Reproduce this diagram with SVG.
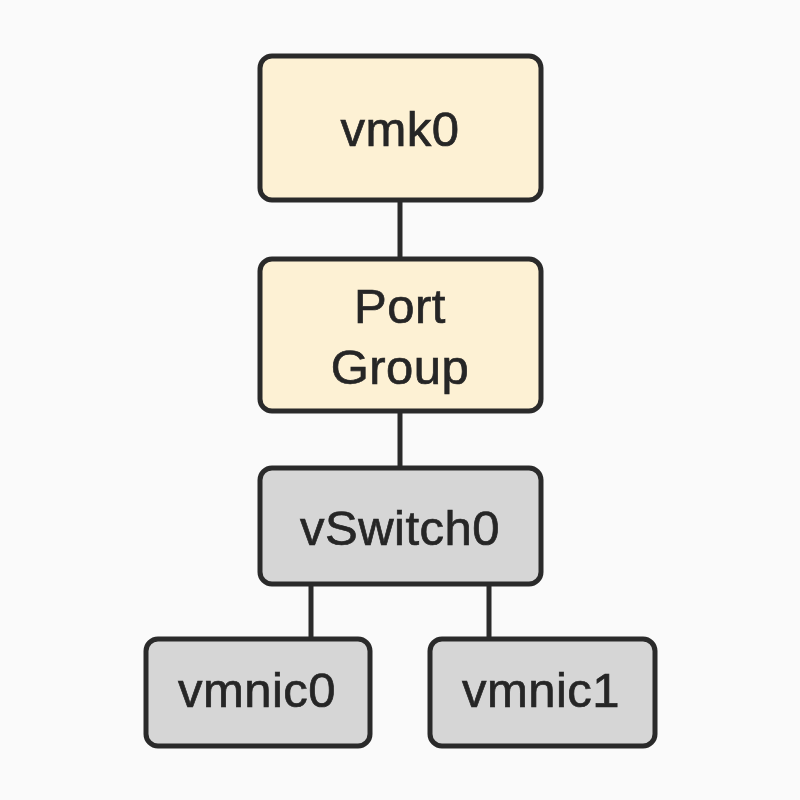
<svg xmlns="http://www.w3.org/2000/svg" width="800" height="800" viewBox="0 0 800 800">
<style>
.bg{fill:#fafafa}
.box{stroke:#2a2a2a;stroke-width:5}
.y{fill:#fdf1d4}
.g{fill:#d6d6d6}
.lbl{font-family:"Liberation Sans",Arial,sans-serif;font-size:49px;fill:#262626;stroke:#262626;stroke-width:0.7px;text-anchor:middle;letter-spacing:0.5px}
.conn{stroke:#2a2a2a;stroke-width:5;fill:none}
</style>
<rect class="bg" x="0" y="0" width="800" height="800"/>
<g id="connectors">
<line class="conn" x1="400" y1="201" x2="400" y2="259"/>
<line class="conn" x1="400" y1="412" x2="400" y2="468"/>
<line class="conn" x1="311" y1="585" x2="311" y2="639"/>
<line class="conn" x1="489" y1="585" x2="489" y2="639"/>
</g>
<g id="vmk0">
<rect class="box y" x="260" y="56" width="281" height="144" rx="12"/>
<text class="lbl" x="400" y="146">vmk0</text>
</g>
<g id="portgroup">
<rect class="box y" x="260" y="259" width="281" height="152" rx="12"/>
<text class="lbl" x="400" y="323">Port</text>
<text class="lbl" x="400" y="384">Group</text>
</g>
<g id="vswitch0">
<rect class="box g" x="260" y="468" width="281" height="116" rx="12"/>
<text class="lbl" x="400" y="545">vSwitch0</text>
</g>
<g id="vmnic0">
<rect class="box g" x="146" y="639" width="224" height="107" rx="12"/>
<text class="lbl" x="257" y="707">vmnic0</text>
</g>
<g id="vmnic1">
<rect class="box g" x="430" y="639" width="225" height="107" rx="12"/>
<text class="lbl" x="541" y="707">vmnic1</text>
</g>
</svg>
